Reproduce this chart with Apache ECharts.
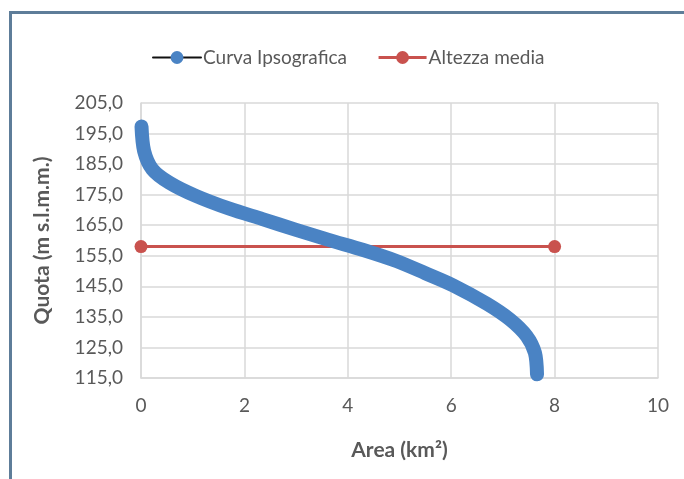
<!DOCTYPE html>
<html>
<head>
<meta charset="utf-8">
<script src="https://cdn.jsdelivr.net/npm/echarts@6/dist/echarts.min.js"></script>
<style>
html,body{margin:0;padding:0;background:#fff;}
#c{width:684px;height:479px;}
</style>
</head>
<body>
<div id="c"></div>
<script>
// Curva Ipsografica (area km², quota m s.l.m.m.)
const areaValues  = [0.01, 0.06, 0.22, 0.55, 1.06, 1.71, 2.35, 3.0, 3.63, 4.3, 4.94, 5.5, 6.04, 6.69, 7.14, 7.46, 7.62, 7.66];
const quotaValues = [197.3, 189.3, 183.3, 178.9, 174.6, 170.4, 167.0, 163.5, 160.2, 156.9, 153.3, 149.3, 145.3, 139.3, 134.1, 128.7, 123.2, 116.2];
// Altezza media
const mediaArea  = [0, 8];
const mediaQuota = [158, 158];
const seriesNames = ['Curva Ipsografica', 'Altezza media'];
const yMin = 115, yMax = 205, yStep = 10;
const xMin = 0, xMax = 10, xStep = 2;

const curve = areaValues.map((a, i) => [a, quotaValues[i]]);
const media = mediaArea.map((a, i) => [a, mediaQuota[i]]);

const font = 'Lato, "Open Sans", sans-serif';
const txt = '#595959';
const chart = echarts.init(document.getElementById('c'));
chart.setOption({
  animation: false,
  backgroundColor: '#fff',
  textStyle: { fontFamily: font },
  graphic: [
    { type: 'line', shape: { x1: 10.5, y1: 12, x2: 10.5, y2: 479 }, style: { stroke: '#5e7d99', lineWidth: 3 } },
    { type: 'line', shape: { x1: 9, y1: 12.5, x2: 684, y2: 12.5 }, style: { stroke: '#5e7d99', lineWidth: 3 } }
  ],
  legend: {
    top: 43,
    left: 147,
    itemWidth: 48,
    itemHeight: 16,
    itemGap: 30,
    textStyle: { fontSize: 19, color: txt, fontFamily: font, padding: [0, 0, 0, -3] },
    data: [
      { name: seriesNames[0], itemStyle: { color: '#4a83c4' }, lineStyle: { color: '#111', width: 2 } },
      { name: seriesNames[1], itemStyle: { color: '#c9524e' }, lineStyle: { color: '#c9524e', width: 3 } }
    ]
  },
  grid: { left: 141, right: 26, top: 103, bottom: 101 },
  xAxis: {
    type: 'value', min: xMin, max: xMax, interval: xStep,
    name: 'Area (km²)', nameLocation: 'middle', nameGap: 62,
    nameTextStyle: { fontSize: 21, fontWeight: 'bold', color: txt, fontFamily: font },
    axisLine: { show: true, lineStyle: { color: '#d9d9d9', width: 1.5 } },
    axisTick: { show: false },
    axisLabel: { fontSize: 19, color: txt, margin: 18, fontFamily: font },
    splitLine: { show: true, lineStyle: { color: '#d9d9d9', width: 1.5 } }
  },
  yAxis: {
    type: 'value', min: yMin, max: yMax, interval: yStep,
    name: 'Quota (m s.l.m.m.)', nameLocation: 'middle', nameGap: 88, nameRotate: 90,
    nameTextStyle: { fontSize: 21, fontWeight: 'bold', color: txt, fontFamily: font },
    axisLine: { show: true, lineStyle: { color: '#d9d9d9', width: 1.5 } },
    axisTick: { show: false },
    axisLabel: { fontSize: 19, color: txt, margin: 18, fontFamily: font,
      formatter: v => v.toFixed(1).replace('.', ',') },
    splitLine: { show: true, lineStyle: { color: '#d9d9d9', width: 1.5 } }
  },
  series: [
    {
      name: seriesNames[0], type: 'line', data: curve,
      smooth: 0.3, symbol: 'circle', showSymbol: false, symbolSize: 12,
      itemStyle: { color: '#4a83c4' },
      lineStyle: { color: '#4a83c4', width: 14, cap: 'round', join: 'round' },
      z: 3
    },
    {
      name: seriesNames[1], type: 'line', data: media,
      symbol: 'circle', symbolSize: 13, showSymbol: true,
      itemStyle: { color: '#c9524e' },
      lineStyle: { color: '#c9524e', width: 3 },
      z: 2
    }
  ]
});
</script>
</body>
</html>
